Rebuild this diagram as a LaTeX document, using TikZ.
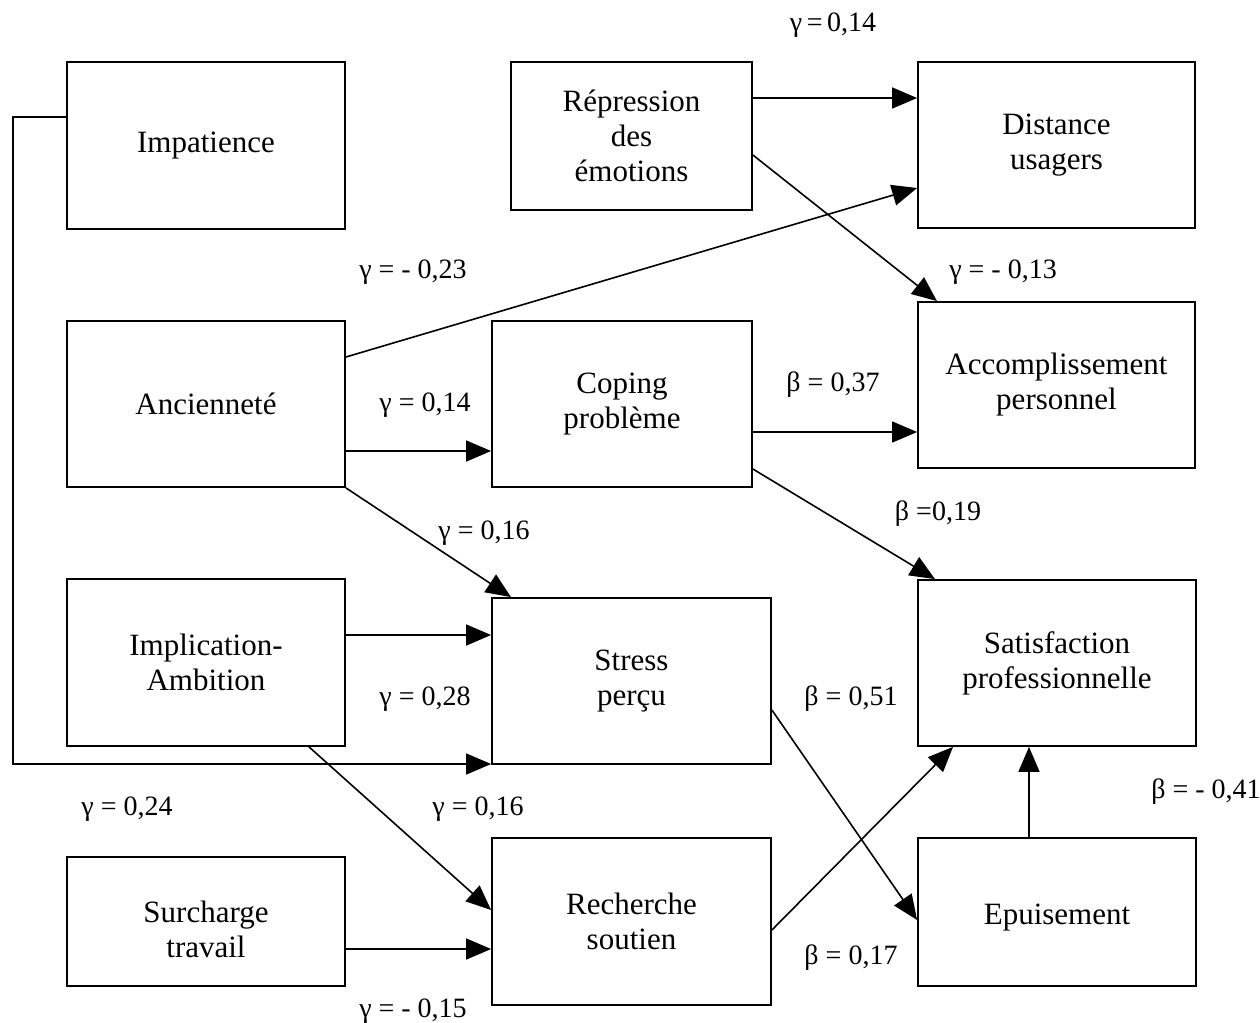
\documentclass[tikz,border=0pt]{standalone}
\usepackage{fontspec}
\setmainfont{Liberation Serif}
\usetikzlibrary{arrows.meta,fit}
\begin{document}
\begin{tikzpicture}[x=0.5pt,y=-0.5pt,
  box/.style={draw, line width=0.9pt, inner sep=0pt},
  txt/.style={align=center, inner sep=0pt, font=\fontsize{15.5}{17.5}\selectfont},
  arr/.style={line width=0.8pt, -{Triangle[length=12.5pt,width=10.5pt]}},
  lbl/.style={font=\fontsize{14}{16}\selectfont, inner sep=0pt}]
\useasboundingbox (0,0) rectangle (1260,1023);
% boxes
\node[box, fit={(67,62) (345,229)}] (imp) {};
\node[box, fit={(511,62) (752,210)}] (rep) {};
\node[box, fit={(918,62) (1195,228)}] (dist) {};
\node[box, fit={(67,321) (345,487)}] (anc) {};
\node[box, fit={(492,321) (752,487)}] (cop) {};
\node[box, fit={(918,302) (1195,468)}] (acc) {};
\node[box, fit={(67,579) (345,746)}] (ia) {};
\node[box, fit={(492,598) (771,764)}] (str) {};
\node[box, fit={(918,580) (1196,746)}] (sat) {};
\node[box, fit={(67,857) (345,986)}] (sur) {};
\node[box, fit={(492,838) (771,1005)}] (rec) {};
\node[box, fit={(918,838) (1196,986)}] (epu) {};
% box texts
\node[txt] (timp) at (imp.center) {Impatience};
\node[txt] (trep) at (rep.center) {Répression\\des\\émotions};
\node[txt] (tdist) at (dist.center) {Distance\\usagers};
\node[txt] (tanc) at (anc.center) {Ancienneté};
\node[txt] (tcop) at (cop.center) {Coping\\problème};
\node[txt] (tacc) at (acc.center) {Accomplissement\\personnel};
\node[txt] (tia) at (ia.center) {Implication-\\Ambition};
\node[txt] (tstr) at (str.center) {Stress\\perçu};
\node[txt] (tsat) at (sat.center) {Satisfaction\\professionnelle};
\node[txt, yshift=-4pt] (tsur) at (sur.center) {Surcharge\\travail};
\node[txt] (trec) at (rec.center) {Recherche\\soutien};
\node[txt, yshift=-3pt] (tepu) at (epu.center) {Epuisement};
% connectors
\draw[arr] (rep.east |- 0,98) -- (dist.west |- 0,98);
\draw[arr] (rep.east |- 0,155) -- (937,0 |- acc.north);
\draw[arr] (anc.east |- 0,357) -- (dist.west |- 0,188);
\draw[arr] (anc.east |- 0,451) -- (cop.west |- 0,451);
\draw[arr] (anc.south east) -- (511,0 |- str.north);
\draw[arr] (cop.east |- 0,432) -- (acc.west |- 0,432);
\draw[arr] (cop.east |- 0,469) -- (935,0 |- sat.north);
\coordinate (c1) at (13,117);
\coordinate (c2) at (13,764);
\draw[arr] (imp.west |- c1) -- (c1) -- (c2) -- (str.west |- c2);
\draw[arr] (ia.east |- 0,635) -- (str.west |- 0,635);
\draw[arr] (309,0 |- ia.south) -- (rec.west |- 0,910);
\draw[arr] (sur.east |- 0,949) -- (rec.west |- 0,949);
\draw[arr] (str.east |- 0,710) -- (epu.west |- 0,920);
\draw[arr] (rec.east |- 0,930) -- (953,0 |- sat.south);
\draw[arr] (1029,0 |- epu.north) -- (1029,0 |- sat.south);
% labels
\node[lbl] (l1) at (833,25) {γ\,=\,0,14};
\node[lbl] (l2) at (413,272) {γ = - 0,23};
\node[lbl] (l3) at (1003,272) {γ = - 0,13};
\node[lbl] (l4) at (425,405) {γ = 0,14};
\node[lbl] (l5) at (833,385) {β = 0,37};
\node[lbl] (l6) at (938,514) {β =0,19};
\node[lbl] (l7) at (484,533) {γ = 0,16};
\node[lbl] (l8) at (425,699) {γ = 0,28};
\node[lbl] (l9) at (851,699) {β = 0,51};
\node[lbl] (l10) at (1206,792) {β = - 0,41};
\node[lbl] (l11) at (127,809) {γ = 0,24};
\node[lbl] (l12) at (478,809) {γ = 0,16};
\node[lbl] (l13) at (851,958) {β = 0,17};
\node[lbl] (l14) at (413,1011) {γ = - 0,15};
\end{tikzpicture}
\end{document}
